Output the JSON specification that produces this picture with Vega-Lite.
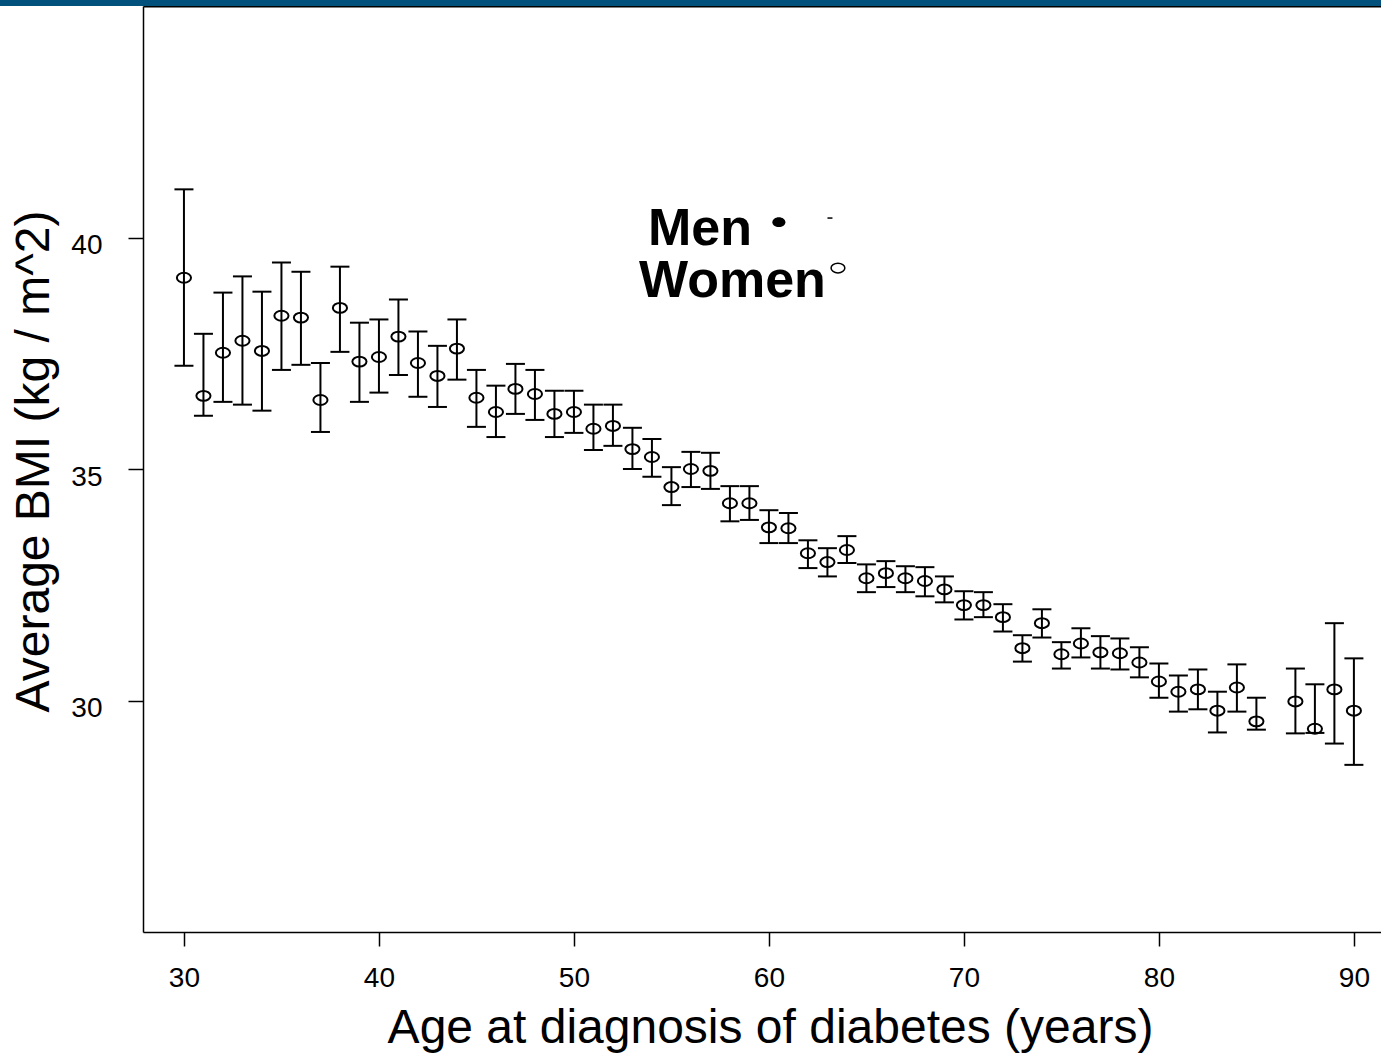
{
  "$schema": "https://vega.github.io/schema/vega-lite/v6.json",
  "width": 1238,
  "height": 926,
  "autosize": {"type": "none"},
  "padding": {"left": 143, "top": 6, "right": 0, "bottom": 121},
  "background": "white",
  "config": {
    "view": {"stroke": null},
    "font": "Liberation Sans",
    "axis": {
      "grid": false,
      "domainColor": "black",
      "tickColor": "black",
      "labelColor": "black",
      "titleColor": "black",
      "labelFont": "Liberation Sans",
      "titleFont": "Liberation Sans",
      "titleFontWeight": "normal",
      "domainWidth": 1.5,
      "tickWidth": 1.5
    }
  },
  "data": {
    "values": [
      {"age": 30, "mean": 39.13, "lo": 37.23, "hi": 41.04},
      {"age": 31, "mean": 36.58, "lo": 36.15, "hi": 37.92},
      {"age": 32, "mean": 37.51, "lo": 36.45, "hi": 38.81},
      {"age": 33, "mean": 37.77, "lo": 36.39, "hi": 39.16},
      {"age": 34, "mean": 37.55, "lo": 36.26, "hi": 38.83},
      {"age": 35, "mean": 38.31, "lo": 37.14, "hi": 39.46},
      {"age": 36, "mean": 38.27, "lo": 37.25, "hi": 39.26},
      {"age": 37, "mean": 36.49, "lo": 35.8, "hi": 37.29},
      {"age": 38, "mean": 38.48, "lo": 37.53, "hi": 39.37},
      {"age": 39, "mean": 37.32, "lo": 36.45, "hi": 38.16},
      {"age": 40, "mean": 37.42, "lo": 36.65, "hi": 38.23},
      {"age": 41, "mean": 37.86, "lo": 37.03, "hi": 38.66},
      {"age": 42, "mean": 37.29, "lo": 36.56, "hi": 37.97},
      {"age": 43, "mean": 37.01, "lo": 36.34, "hi": 37.66},
      {"age": 44, "mean": 37.6, "lo": 36.93, "hi": 38.23},
      {"age": 45, "mean": 36.54, "lo": 35.91, "hi": 37.14},
      {"age": 46, "mean": 36.23, "lo": 35.69, "hi": 36.8},
      {"age": 47, "mean": 36.73, "lo": 36.19, "hi": 37.27},
      {"age": 48, "mean": 36.62, "lo": 36.06, "hi": 37.14},
      {"age": 49, "mean": 36.19, "lo": 35.69, "hi": 36.69},
      {"age": 50, "mean": 36.23, "lo": 35.78, "hi": 36.69},
      {"age": 51, "mean": 35.87, "lo": 35.41, "hi": 36.39},
      {"age": 52, "mean": 35.93, "lo": 35.5, "hi": 36.39},
      {"age": 53, "mean": 35.43, "lo": 35.0, "hi": 35.89},
      {"age": 54, "mean": 35.26, "lo": 34.83, "hi": 35.65},
      {"age": 55, "mean": 34.61, "lo": 34.22, "hi": 35.04},
      {"age": 56, "mean": 35.0, "lo": 34.61, "hi": 35.37},
      {"age": 57, "mean": 34.96, "lo": 34.57, "hi": 35.35},
      {"age": 58, "mean": 34.26, "lo": 33.87, "hi": 34.63},
      {"age": 59, "mean": 34.26, "lo": 33.9, "hi": 34.63},
      {"age": 60, "mean": 33.74, "lo": 33.4, "hi": 34.11},
      {"age": 61, "mean": 33.72, "lo": 33.4, "hi": 34.05},
      {"age": 62, "mean": 33.18, "lo": 32.86, "hi": 33.46},
      {"age": 63, "mean": 32.99, "lo": 32.68, "hi": 33.29},
      {"age": 64, "mean": 33.25, "lo": 32.97, "hi": 33.55},
      {"age": 65, "mean": 32.64, "lo": 32.34, "hi": 32.94},
      {"age": 66, "mean": 32.75, "lo": 32.45, "hi": 33.01},
      {"age": 67, "mean": 32.64, "lo": 32.34, "hi": 32.9},
      {"age": 68, "mean": 32.58, "lo": 32.25, "hi": 32.88},
      {"age": 69, "mean": 32.4, "lo": 32.12, "hi": 32.68},
      {"age": 70, "mean": 32.06, "lo": 31.75, "hi": 32.36},
      {"age": 71, "mean": 32.06, "lo": 31.8, "hi": 32.34},
      {"age": 72, "mean": 31.8, "lo": 31.49, "hi": 32.08},
      {"age": 73, "mean": 31.13, "lo": 30.84, "hi": 31.41},
      {"age": 74, "mean": 31.67, "lo": 31.36, "hi": 31.97},
      {"age": 75, "mean": 31.0, "lo": 30.69, "hi": 31.26},
      {"age": 76, "mean": 31.23, "lo": 30.93, "hi": 31.56},
      {"age": 77, "mean": 31.04, "lo": 30.69, "hi": 31.39},
      {"age": 78, "mean": 31.02, "lo": 30.67, "hi": 31.34},
      {"age": 79, "mean": 30.82, "lo": 30.5, "hi": 31.15},
      {"age": 80, "mean": 30.41, "lo": 30.06, "hi": 30.8},
      {"age": 81, "mean": 30.19, "lo": 29.76, "hi": 30.54},
      {"age": 82, "mean": 30.24, "lo": 29.81, "hi": 30.67},
      {"age": 83, "mean": 29.78, "lo": 29.31, "hi": 30.19},
      {"age": 84, "mean": 30.28, "lo": 29.76, "hi": 30.78},
      {"age": 85, "mean": 29.55, "lo": 29.37, "hi": 30.06},
      {"age": 87, "mean": 29.98, "lo": 29.29, "hi": 30.69},
      {"age": 88, "mean": 29.39, "lo": 29.3, "hi": 30.35},
      {"age": 89, "mean": 30.24, "lo": 29.07, "hi": 31.67},
      {"age": 90, "mean": 29.78, "lo": 28.61, "hi": 30.91}
    ]
  },
  "resolve": {"axis": {"x": "independent", "y": "independent"}},
  "layer": [
    {
      "data": {"values": [{}]},
      "mark": {"type": "rect", "color": "#01517c", "clip": false},
      "encoding": {
        "x": {"datum": 20, "type": "quantitative", "scale": {"domain": [27.9, 91.39], "nice": false, "zero": false}, "axis": null},
        "x2": {"datum": 100},
        "y": {"datum": 45, "type": "quantitative", "scale": {"domain": [25, 45], "nice": false, "zero": false}, "axis": null},
        "y2": {"datum": 45.3}
      }
    },
    {
      "mark": {"type": "rule", "color": "black", "strokeWidth": 2},
      "encoding": {
        "x": {"field": "age", "type": "quantitative", "axis": {"orient": "top", "values": [30, 40, 50, 60, 70, 80, 90], "tickSize": 6, "labels": false, "title": null, "domainWidth": 2}},
        "y": {"field": "lo", "type": "quantitative", "axis": null},
        "y2": {"field": "hi"}
      }
    },
    {
      "mark": {"type": "tick", "orient": "horizontal", "color": "black", "size": 19, "thickness": 2, "opacity": 1},
      "encoding": {
        "x": {"field": "age", "type": "quantitative", "axis": null},
        "y": {"field": "hi", "type": "quantitative", "axis": null}
      }
    },
    {
      "mark": {"type": "tick", "orient": "horizontal", "color": "black", "size": 19, "thickness": 2, "opacity": 1},
      "encoding": {
        "x": {"field": "age", "type": "quantitative", "axis": null},
        "y": {"field": "lo", "type": "quantitative", "axis": null}
      }
    },
    {
      "mark": {"type": "point", "shape": "M-1,0A1,0.7,0,1,1,1,0A1,0.7,0,1,1,-1,0Z", "filled": false, "stroke": "black", "strokeWidth": 2, "size": 200, "opacity": 1},
      "encoding": {
        "x": {"field": "age", "type": "quantitative", "axis": {"orient": "bottom", "values": [30, 40, 50, 60, 70, 80, 90], "tickSize": 14, "labelFontSize": 28, "labelPadding": 18, "title": "Age at diagnosis of diabetes (years)", "titleFontSize": 48, "titlePadding": 12, "titleX": 627}},
        "y": {"field": "mean", "type": "quantitative", "axis": {"orient": "left", "values": [30, 35, 40], "tickSize": 15, "labelFontSize": 28, "labelPadding": 26, "labelOffset": 8, "title": "Average BMI (kg / m^2)", "titleFontSize": 48, "titlePadding": 12, "titleY": 455}}
      }
    },
    {
      "data": {"values": [{}]},
      "mark": {"type": "text", "text": "Men", "font": "Liberation Sans", "fontWeight": "bold", "fontSize": 52, "align": "right", "baseline": "alphabetic", "color": "black"},
      "encoding": {"x": {"datum": 59.13, "type": "quantitative", "axis": null}, "y": {"datum": 39.84, "type": "quantitative", "axis": null}}
    },
    {
      "data": {"values": [{}]},
      "mark": {"type": "text", "text": "Women", "font": "Liberation Sans", "fontWeight": "bold", "fontSize": 52, "align": "right", "baseline": "alphabetic", "color": "black"},
      "encoding": {"x": {"datum": 62.92, "type": "quantitative", "axis": null}, "y": {"datum": 38.71, "type": "quantitative", "axis": null}}
    },
    {
      "data": {"values": [{}]},
      "mark": {"type": "point", "shape": "M-1,0A1,0.75,0,1,1,1,0A1,0.75,0,1,1,-1,0Z", "filled": true, "color": "black", "size": 170, "opacity": 1},
      "encoding": {"x": {"datum": 60.51, "type": "quantitative", "axis": null}, "y": {"datum": 40.33, "type": "quantitative", "axis": null}}
    },
    {
      "data": {"values": [{}]},
      "mark": {"type": "point", "shape": "M-1,0A1,0.7,0,1,1,1,0A1,0.7,0,1,1,-1,0Z", "filled": false, "stroke": "black", "strokeWidth": 1.5, "size": 190, "opacity": 1},
      "encoding": {"x": {"datum": 63.54, "type": "quantitative", "axis": null}, "y": {"datum": 39.34, "type": "quantitative", "axis": null}}
    },
    {
      "data": {"values": [{}]},
      "mark": {"type": "tick", "orient": "horizontal", "color": "black", "size": 5, "thickness": 1.5, "opacity": 1},
      "encoding": {"x": {"datum": 63.13, "type": "quantitative", "axis": null}, "y": {"datum": 40.42, "type": "quantitative", "axis": null}}
    }
  ]
}
